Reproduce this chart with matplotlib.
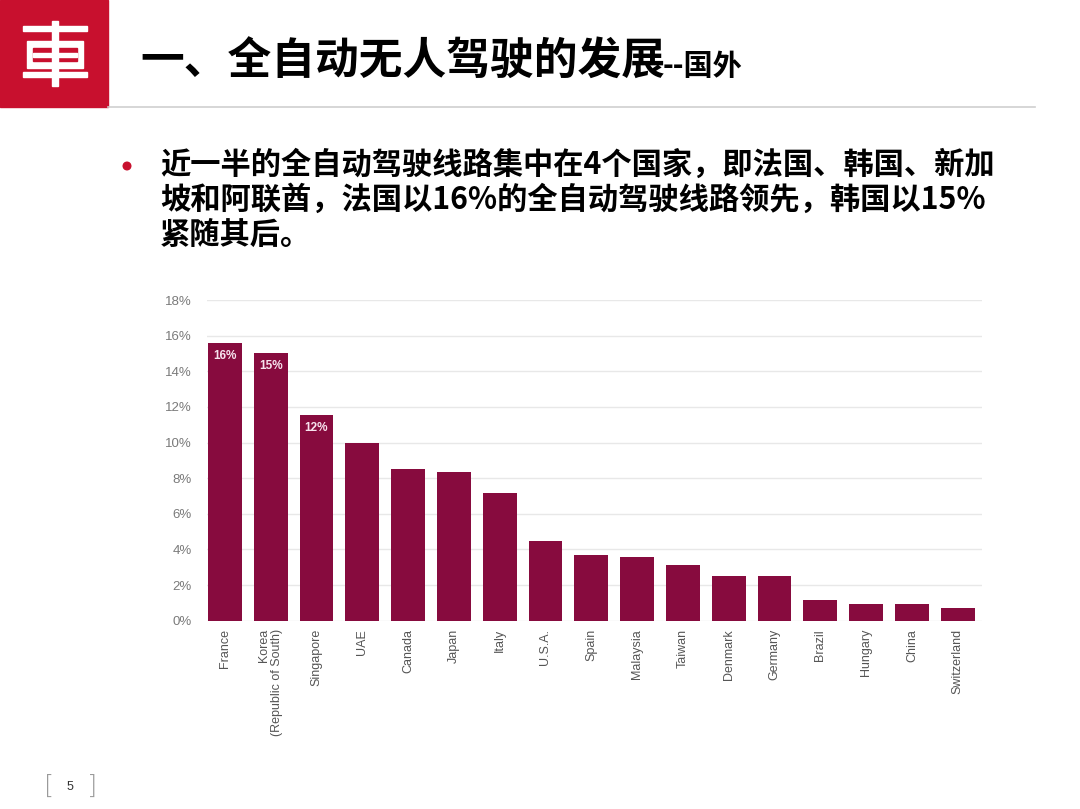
import matplotlib
matplotlib.use("Agg")
import matplotlib.pyplot as plt
from matplotlib.patches import Rectangle, Circle
from matplotlib.ticker import FuncFormatter, MultipleLocator

plt.rcParams['font.family'] = ['Noto Sans CJK SC', 'DejaVu Sans']

# ---- data ----
countries = ["France", "Korea\n(Republic of South)", "Singapore", "UAE", "Canada",
             "Japan", "Italy", "U.S.A.", "Spain", "Malaysia", "Taiwan", "Denmark",
             "Germany", "Brazil", "Hungary", "China", "Switzerland"]
shares = [15.6, 15.05, 11.55, 9.97, 8.52, 8.35, 7.16, 4.48, 3.67, 3.6, 3.13,
          2.53, 2.53, 1.16, 0.92, 0.92, 0.71]
bar_labels = ["16%", "15%", "12%"] + [""] * 14
title_main = "一、全自动无人驾驶的发展"
title_sub = "--国外"
bullet_lines = ["近一半的全自动驾驶线路集中在4个国家，即法国、韩国、新加",
                "坡和阿联酋，法国以16%的全自动驾驶线路领先，韩国以15%",
                "紧随其后。"]
page_no = "5"

W, H = 1080, 809
fig = plt.figure(figsize=(W / 100, H / 100), dpi=100)
fig.patch.set_facecolor("white")

# ---- overlay for slide decorations (pixel coords) ----
deco = fig.add_axes([0, 0, 1, 1])
deco.set_xlim(0, W)
deco.set_ylim(H, 0)
deco.axis("off")

red = "#c8102e"
deco.add_patch(Rectangle((0, 0), 108, 107, color=red, zorder=1))
# logo
wc = "white"
deco.add_patch(Rectangle((23, 26), 64, 5, color=wc, zorder=2))
deco.add_patch(Rectangle((23, 72), 64, 5, color=wc, zorder=2))
deco.add_patch(Rectangle((27, 41), 56, 27, color=wc, zorder=2))
deco.add_patch(Rectangle((33, 48), 44, 13, color=red, zorder=3))
deco.add_patch(Rectangle((33, 53), 44, 3.5, color=wc, zorder=4))
deco.add_patch(Rectangle((51.5, 21), 6, 65, color=wc, zorder=5))

# title
deco.text(140, 62, title_main, fontsize=31.5, fontweight="black", color="black",
          va="center", ha="left", zorder=3)
deco.text(663, 66, title_sub, fontsize=21, fontweight="black", color="black",
          va="center", ha="left", zorder=3)
deco.plot([108, 1035], [107, 107], color="#cfcfcf", lw=1.2)

# bullet
deco.add_patch(Circle((127, 166), 3.8, color=red, zorder=3))
for i, line in enumerate(bullet_lines):
    deco.text(160, 165 + 35 * i, line, fontsize=21.8, fontweight="bold",
              color="black", va="center", ha="left")

# page number
deco.text(49, 786, "[", fontsize=19, color="#9a9a9a", va="center", ha="center",
          fontweight="light", family=["DejaVu Sans"])
deco.text(92, 786, "]", fontsize=19, color="#9a9a9a", va="center", ha="center",
          fontweight="light", family=["DejaVu Sans"])
deco.text(70, 787, page_no, fontsize=9, color="#333333", va="center", ha="center",
          family=["Liberation Sans"])

# ---- chart ----
ax_l, ax_r = 207 / W, 982 / W
ax_b, ax_t = 1 - 620.7 / H, 1 - 300 / H
ax = fig.add_axes([ax_l, ax_b, ax_r - ax_l, ax_t - ax_b])
ax.set_facecolor("none")
bar_color = "#870b3e"
x = list(range(len(countries)))
bars = ax.bar(x, shares, width=0.74, color=bar_color, zorder=3)
ax.set_xlim(-0.39, 16.53)
ax.set_ylim(0, 18)
ax.yaxis.set_major_locator(MultipleLocator(2))
ax.yaxis.set_major_formatter(FuncFormatter(lambda v, p: f"{v:.0f}%"))
ax.grid(axis="y", color="#e8e8e8", lw=1, zorder=0)
ax.grid(axis="x", visible=False)
for s in ax.spines.values():
    s.set_visible(False)
ax.tick_params(axis="y", length=0, pad=11, labelsize=9.5, labelcolor="#7a7a7a")
ax.tick_params(axis="x", length=0, pad=6, labelsize=9, labelcolor="#555555")
ax.set_xticks(x)
ax.set_xticklabels(countries, rotation=90, va="top", ha="center",
                   family=["Liberation Sans", "DejaVu Sans"], linespacing=1.05,
                   multialignment="right")
for lab in ax.get_yticklabels():
    lab.set_family(["Liberation Sans", "DejaVu Sans"])

for rect, lab in zip(bars, bar_labels):
    if lab:
        ax.annotate(lab, (rect.get_x() + rect.get_width() / 2, rect.get_height()),
                    xytext=(0, -5), textcoords="offset points", ha="center", va="top",
                    fontsize=8.5, fontweight="bold", color="#f7e3ee",
                    family=["Liberation Sans", "DejaVu Sans"], zorder=4)

fig.savefig("out.png", dpi=100)
